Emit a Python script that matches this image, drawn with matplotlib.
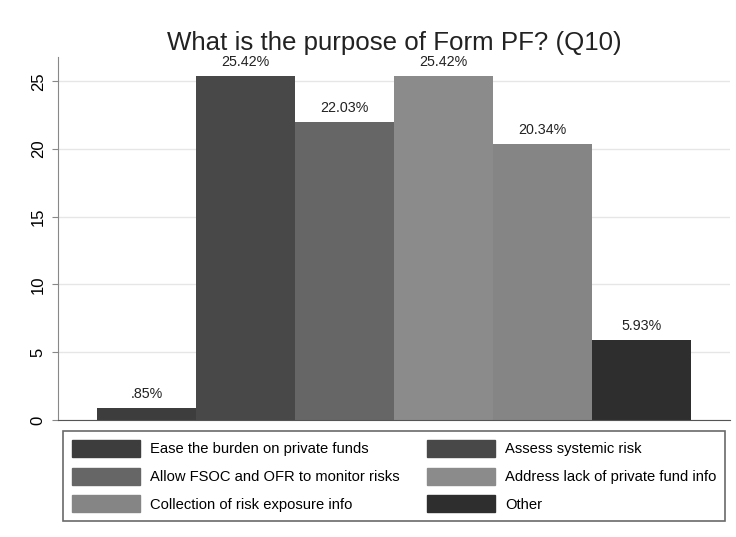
import matplotlib.pyplot as plt
from matplotlib.patches import Patch

plt.rcParams['font.family'] = ['Liberation Sans', 'DejaVu Sans']

categories = ["Ease the burden on private funds", "Assess systemic risk",
              "Allow FSOC and OFR to monitor risks", "Address lack of private fund info",
              "Collection of risk exposure info", "Other"]
values = [0.85, 25.42, 22.03, 25.42, 20.34, 5.93]
value_labels = [".85%", "25.42%", "22.03%", "25.42%", "20.34%", "5.93%"]
colors = ["#3d3d3d", "#484848", "#666666", "#8b8b8b", "#858585", "#2e2e2e"]
yticks = [0, 5, 10, 15, 20, 25]

fig = plt.figure(figsize=(7.36, 5.37), dpi=100)
ax = fig.add_axes([0.079, 0.218, 0.913, 0.676])

x = list(range(len(values)))
bars = ax.bar(x, values, width=1.0, color=colors, zorder=2)
for b, lab in zip(bars, value_labels):
    ax.annotate(lab, (b.get_x() + b.get_width() / 2, b.get_height()),
                xytext=(0, 5), textcoords='offset points',
                ha='center', va='bottom', fontsize=10.3, color='#222222')

ax.set_xlim(-0.894, 5.894)
ax.set_ylim(0, 26.8)
ax.set_yticks(yticks)
ax.set_yticklabels([str(t) for t in yticks], rotation=90, va='center', fontsize=12)
ax.set_xticks([])
ax.grid(axis='y', color='#e6e6e6', linewidth=1, zorder=0)
for s in ['top', 'right']:
    ax.spines[s].set_visible(False)
ax.spines['left'].set_color('#888888')
ax.spines['bottom'].set_color('#555555')
ax.tick_params(axis='y', color='#888888', length=4, pad=5)

ax.set_title("What is the purpose of Form PF? (Q10)", fontsize=18.6, pad=5, color='#222222')

# legend fills column by column, so reorder to get the row layout of the original
order = [0, 2, 4, 1, 3, 5]
handles = [Patch(facecolor=colors[i], edgecolor=colors[i]) for i in order]
labels = [categories[i] for i in order]
leg = fig.legend(handles, labels, ncol=2, loc='lower left',
                 bbox_to_anchor=(63 / 736, 1 - 521 / 537, 662 / 736, 89 / 537),
                 mode='expand', fontsize=10.6, frameon=True, fancybox=False,
                 handlelength=4.6, handleheight=1.37, handletextpad=0.68,
                 labelspacing=0.74, columnspacing=1.0, borderaxespad=0,
                 borderpad=0.6)
leg.get_frame().set_edgecolor('#444444')
leg.get_frame().set_linewidth(1.2)

fig.savefig("out.png", dpi=100)
